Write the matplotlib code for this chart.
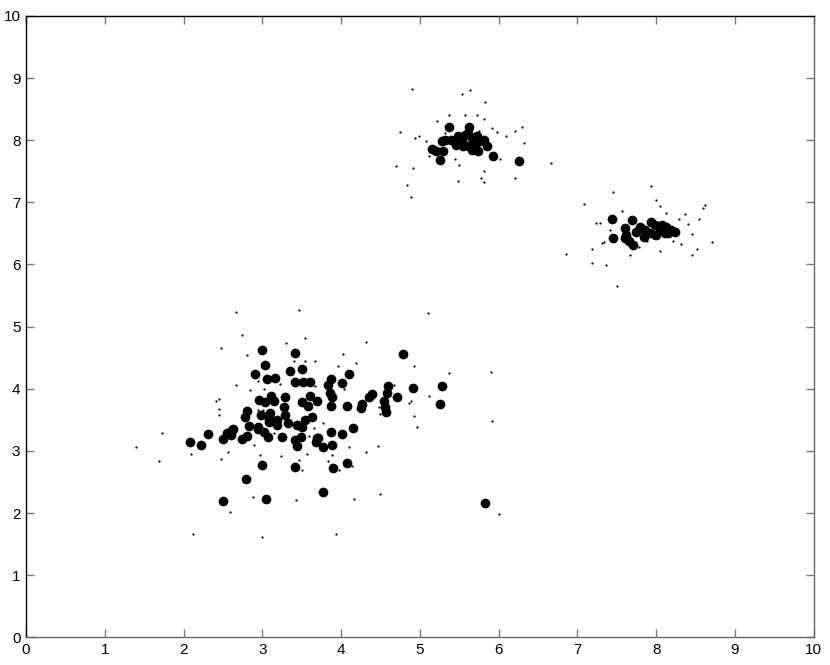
import matplotlib
matplotlib.use("Agg")
import matplotlib.pyplot as plt

# big dots (cluster cores), x and y
big_x = [2.99, 3.42, 3.03, 2.91, 3.06, 3.16, 3.35, 3.50, 3.42, 3.52, 3.61, 3.60, 3.70, 3.50,
         3.58, 3.11, 3.15, 2.96, 3.04, 3.29, 3.27, 2.80, 2.78, 3.10, 3.08, 2.98, 3.29, 3.19,
         3.32, 3.63, 3.54, 3.44, 3.50, 2.83, 2.94, 2.63, 2.31, 2.08, 2.22, 2.50, 2.55, 2.62,
         2.60, 2.74, 2.80, 2.95, 3.02, 3.07, 3.08, 3.19, 3.25, 3.41, 3.44, 3.49, 3.68, 3.70,
         3.00, 3.41, 2.79, 2.50, 3.05, 4.78, 4.10, 3.87, 3.83, 4.01, 3.86, 3.89, 4.60, 4.58,
         4.39, 4.35, 4.71, 4.91, 5.28, 5.25, 4.54, 4.56, 4.57, 4.27, 4.25, 4.07, 3.87, 4.15,
         3.87, 4.01, 3.71, 3.77, 3.88, 4.08, 3.90, 3.77, 5.83,
         # cluster 2
         5.37, 5.62, 5.28, 5.16, 5.21, 5.25, 5.30, 5.49, 5.53, 5.57, 5.61, 5.66, 5.72, 5.76,
         5.70, 5.61, 5.55, 5.66, 5.74, 5.82, 5.85, 5.93, 5.46, 5.40, 5.32, 6.26,
         # cluster 3
         7.44, 7.69, 7.45, 7.60, 7.62, 7.60, 7.66, 7.71, 7.75, 7.79, 7.86, 7.94, 7.98, 8.05,
         8.13, 8.19, 8.24, 7.92, 7.84, 8.00, 8.11, 8.07, 8.15]
big_y = [4.62, 4.57, 4.38, 4.23, 4.15, 4.18, 4.28, 4.32, 4.11, 4.11, 4.11, 3.88, 3.80, 3.78,
         3.72, 3.88, 3.81, 3.82, 3.79, 3.86, 3.70, 3.64, 3.54, 3.61, 3.52, 3.57, 3.58, 3.50,
         3.45, 3.54, 3.49, 3.42, 3.39, 3.40, 3.39, 3.35, 3.27, 3.15, 3.10, 3.19, 3.28, 3.33,
         3.25, 3.19, 3.24, 3.36, 3.31, 3.22, 3.47, 3.42, 3.22, 3.18, 3.08, 3.23, 3.15, 3.20,
         2.78, 2.74, 2.55, 2.20, 2.23, 4.56, 4.24, 4.16, 4.06, 4.09, 3.93, 3.86, 4.04, 3.93,
         3.91, 3.87, 3.86, 4.01, 4.05, 3.75, 3.81, 3.71, 3.63, 3.75, 3.69, 3.73, 3.72, 3.37,
         3.30, 3.27, 3.21, 3.06, 3.10, 2.80, 2.72, 2.34, 2.16,
         # cluster 2
         8.21, 8.22, 7.99, 7.86, 7.82, 7.68, 7.83, 8.06, 7.98, 8.08, 8.11, 8.03, 8.06, 7.98,
         7.92, 7.90, 7.90, 7.85, 7.82, 8.01, 7.90, 7.75, 7.92, 8.01, 8.01, 7.67,
         # cluster 3
         6.73, 6.71, 6.43, 6.58, 6.47, 6.42, 6.37, 6.31, 6.53, 6.61, 6.56, 6.69, 6.64, 6.58,
         6.61, 6.56, 6.53, 6.50, 6.45, 6.47, 6.50, 6.64, 6.50]

# small dots (scattered samples)
small_x = [2.66, 3.46, 2.74, 3.54, 3.30, 2.48, 2.80, 3.40, 3.54, 3.67, 2.94, 2.67, 2.85, 3.02,
           3.22, 3.67, 2.41, 2.45, 2.45, 2.45, 2.95, 3.01, 1.73, 1.40, 2.09, 1.69, 2.57, 2.48,
           2.90, 2.97, 3.24, 3.47, 3.50, 3.57, 3.65, 3.15, 3.59, 2.88, 3.43, 2.59, 2.12, 2.99,
           3.72, 5.10, 4.32, 4.02, 3.96, 4.19, 4.93, 5.37, 5.90, 4.04, 4.67, 5.11, 4.86, 4.89,
           4.48, 4.50, 4.92, 4.97, 3.77, 5.91, 4.10, 4.47, 4.31, 3.88, 3.83, 3.97, 4.14, 4.49,
           4.17, 6.01, 3.93,
           4.90, 5.53, 5.64, 5.83, 5.37, 5.57, 5.72, 5.82, 5.22, 4.75, 4.99, 4.94, 5.08, 5.32,
           5.75, 5.92, 5.98, 6.09, 6.21, 6.30, 6.32, 5.11, 5.45, 5.50, 6.02, 4.70, 4.91, 5.81,
           5.77, 5.82, 5.48, 6.21, 4.84, 4.89, 6.66,
           7.93, 7.45, 7.08, 8.00, 8.05, 7.56, 8.12, 8.37, 8.29, 7.24, 7.29, 8.40, 8.54, 7.42,
           8.46, 7.31, 7.34, 8.21, 8.32, 7.88, 7.96, 7.99, 7.78, 7.19, 8.05, 8.52, 7.67, 8.46,
           6.86, 7.19, 7.36, 7.50, 8.59, 8.62, 8.71]
small_y = [5.24, 5.26, 4.86, 4.82, 4.73, 4.66, 4.55, 4.45, 4.45, 4.45, 4.13, 4.06, 3.98, 3.99,
           4.07, 4.04, 3.80, 3.83, 3.67, 3.58, 3.65, 3.65, 3.28, 3.07, 2.95, 2.83, 2.98, 2.87,
           3.10, 2.93, 2.92, 2.85, 2.69, 2.95, 3.37, 3.28, 3.24, 2.26, 2.21, 2.01, 1.66, 1.61,
           2.34, 5.22, 4.76, 4.56, 4.37, 4.42, 4.36, 4.25, 4.27, 4.00, 4.06, 3.88, 3.77, 3.81,
           3.71, 3.60, 3.56, 3.39, 3.45, 3.48, 3.06, 3.08, 2.98, 2.93, 2.84, 2.70, 2.76, 2.31,
           2.22, 1.98, 1.67,
           8.82, 8.74, 8.81, 8.61, 8.40, 8.40, 8.40, 8.34, 8.31, 8.14, 8.07, 8.03, 7.98, 8.12,
           8.15, 8.20, 8.13, 8.06, 8.15, 8.21, 7.95, 7.74, 7.69, 7.60, 7.70, 7.59, 7.56, 7.50,
           7.40, 7.32, 7.34, 7.40, 7.28, 7.08, 7.63,
           7.26, 7.16, 6.97, 7.03, 6.94, 6.86, 6.83, 6.81, 6.73, 6.67, 6.67, 6.65, 6.73, 6.56,
           6.49, 6.34, 6.36, 6.38, 6.33, 6.37, 6.43, 6.42, 6.28, 6.25, 6.22, 6.25, 6.16, 6.15,
           6.17, 6.02, 5.99, 5.65, 6.91, 6.96, 6.36]

ticks = list(range(0, 11))

fig = plt.figure(figsize=(8.3, 6.65), dpi=100)
ax = fig.add_axes([0.0313, 0.0417, 0.9491, 0.9343])

ax.plot(small_x, small_y, 'o', color='black', markersize=1.6, markeredgewidth=0)
ax.plot(big_x, big_y, 'o', color='black', markersize=7, markeredgewidth=0)

ax.set_xlim(0, 10)
ax.set_ylim(0, 10)
ax.set_xticks(ticks)
ax.set_yticks(ticks)
ax.tick_params(direction='in', length=6, width=1, color='#777777',
               top=True, right=True, labelsize=11, pad=4)
for lab in ax.get_xticklabels() + ax.get_yticklabels():
    lab.set_family('Liberation Sans')
for sp in ax.spines.values():
    sp.set_linewidth(1)
ax.spines['bottom'].set_color('#666666')
ax.spines['right'].set_color('#666666')

fig.savefig('out.png', dpi=100)
